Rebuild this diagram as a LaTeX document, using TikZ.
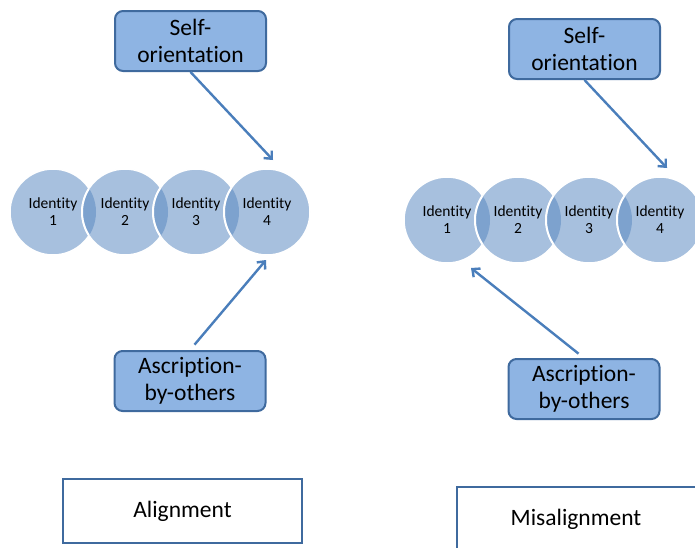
\documentclass[tikz,border=0pt]{standalone}
\usepackage{fontspec}
\setmainfont{Carlito}[Ligatures=NoCommon]
\usetikzlibrary{arrows.meta}
\definecolor{circfill}{HTML}{A7C0DE}
\definecolor{ovfill}{HTML}{7DA2CE}
\definecolor{boxfill}{HTML}{8EB4E3}
\definecolor{boxline}{HTML}{3F6A9E}
\definecolor{arrowcol}{HTML}{4A7EBB}
\tikzset{
  roundbox/.style={rounded corners=8pt, draw=boxline, line width=2pt, fill=boxfill,
    align=center, minimum width=151pt, minimum height=60pt, inner sep=0pt,
    font=\fontsize{23.5}{27}\selectfont},
  labelbox/.style={draw=boxline, line width=2pt, minimum width=239pt, minimum height=64pt,
    inner sep=0pt, font=\fontsize{23.5}{27}\selectfont},
  idcircle/.style={circle, minimum size=86pt, inner sep=0pt, fill=circfill, draw=white,
    line width=1.5pt, align=center, font=\fontsize{15.5}{17}\selectfont},
  conn/.style={draw=arrowcol, line width=2.4pt, -{Straight Barb[length=6pt,width=11pt]}},
}
\begin{document}
\begin{tikzpicture}[x=1pt,y=-1pt]
\useasboundingbox (0,0) rectangle (695,547);
\clip (0,0) rectangle (695,547);

% left circles
\node[idcircle] (L1) at (53,212) {Identity\\1};
\node[idcircle] (L2) at (125,212) {Identity\\2};
\node[idcircle] (L3) at (196,212) {Identity\\3};
\node[idcircle] (L4) at (267,212) {Identity\\4};
% right circles
\node[idcircle] (R1) at (447,220) {Identity\\1};
\node[idcircle] (R2) at (518,220) {Identity\\2};
\node[idcircle] (R3) at (589,220) {Identity\\3};
\node[idcircle] (R4) at (660,220) {Identity\\4};

% overlaps
\foreach \a/\b in {L1/L2,L2/L3,L3/L4,R1/R2,R2/R3,R3/R4}{
  \begin{scope}
    \clip (\a.center) circle (43pt);
    \fill[ovfill] (\b.center) circle (43pt);
    \draw[white, line width=2pt] (\b.center) circle (43pt);
  \end{scope}
}

% boxes
\node[roundbox] (so1) at (190.5,41) {Self-\\orientation};
\node[roundbox] (ab1) at (190,381) {Ascription-\\by-others};
\node[roundbox] (so2) at (584.5,49) {Self-\\orientation};
\node[roundbox] (ab2) at (584,389) {Ascription-\\by-others};

\node[labelbox] (al) at (182.5,511) {Alignment};
\node[labelbox] (mis) at (576,519) {Misalignment};

% arrows
\coordinate (t1) at (273,160);
\coordinate (t2) at (266,260);
\coordinate (t3) at (667,168);
\coordinate (t4) at (471,268);
\draw[conn] (so1.south) -- (t1);
\draw[conn, shorten <=7pt] (ab1.north) -- (t2);
\draw[conn] (so2.south) -- (t3);
\draw[conn, shorten <=7pt] (ab2.north) -- (t4);
\end{tikzpicture}
\end{document}
